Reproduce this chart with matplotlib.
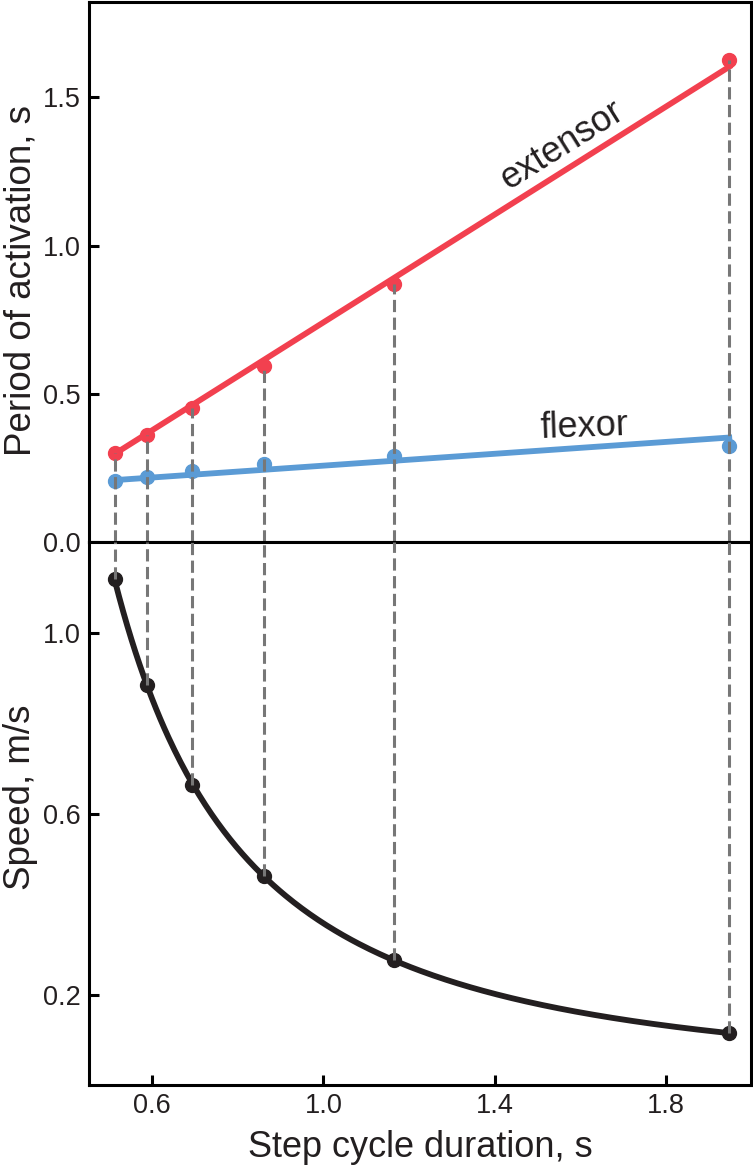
import numpy as np
import matplotlib
matplotlib.use('Agg')
import matplotlib.pyplot as plt

plt.rcParams['font.family'] = ['Liberation Sans', 'DejaVu Sans']

# ====
# Data
# ====
cycle = [0.513, 0.587, 0.694, 0.860, 1.164, 1.948]   # step cycle duration, s
extensor = [0.301, 0.361, 0.451, 0.595, 0.870, 1.625]  # period of activation, s
flexor = [0.206, 0.221, 0.239, 0.263, 0.289, 0.325]
speed = [1.119, 0.885, 0.664, 0.461, 0.276, 0.115]  # m/s

# regression lines (slope, intercept)
ext_fit = (0.909, -0.168)
flex_fit = (0.100, 0.158)

red = '#f2404f'
blue = '#5b9bd5'
black = '#231f20'
gray = '#777777'

# ======
# Figure
# ======
fig = plt.figure(figsize=(7.53, 11.71), dpi=100)
ax1 = fig.add_axes([0.118, 0.537, 0.880, 0.461])
ax2 = fig.add_axes([0.118, 0.0734, 0.880, 0.4636], sharex=ax1)

x = np.array(cycle)
xl = np.array([x.min(), x.max()])
dash = (0, (4.0, 1.8))

# top: activation periods
ax1.plot(xl, ext_fit[0] * xl + ext_fit[1], color=red, lw=4.2, zorder=3)
ax1.plot(x, extensor, 'o', color=red, ms=10, zorder=2)
ax1.plot(xl, flex_fit[0] * xl + flex_fit[1], color=blue, lw=4.2, zorder=3)
ax1.plot(x, flexor, 'o', color=blue, ms=10, zorder=2)
ax1.vlines(x, 0, extensor, colors=gray, lw=2.2, linestyles=dash, zorder=4)

xe = 1.58
ax1.text(xe, ext_fit[0] * xe + ext_fit[1] + 0.02, 'extensor', fontsize=26, color=black,
         rotation=32, rotation_mode='anchor', ha='center', va='bottom')
xf = 1.61
ax1.text(xf, flex_fit[0] * xf + flex_fit[1] + 0.01, 'flexor', fontsize=26, color=black,
         rotation=2, rotation_mode='anchor', ha='center', va='bottom')

ax1.set_ylim(0, 1.82)
ax1.set_yticks([0.0, 0.5, 1.0, 1.5])
ax1.set_yticklabels(['0.0', '0.5', '1.0', '1.5'])
ax1.set_ylabel('Period of activation, s', fontsize=26.5, color=black)
ax1.tick_params(axis='x', bottom=False, labelbottom=False)

# bottom: speed, power-law fit through the points
b, a = np.polyfit(np.log(x), np.log(speed), 1)
xs = np.linspace(x.min(), x.max(), 300)
ax2.plot(xs, np.exp(a) * xs ** b, color=black, lw=4.2, zorder=3)
ax2.plot(x, speed, 'o', color=black, ms=10, zorder=2)
ax2.vlines(x, speed, 1.2, colors=gray, lw=2.2, linestyles=dash, zorder=4)

ax2.set_ylim(0, 1.2)
ax2.set_yticks([0.2, 0.6, 1.0])
ax2.set_yticklabels(['0.2', '0.6', '1.0'])
ax2.set_xlim(0.452, 2.0)
ax2.set_xticks([0.6, 1.0, 1.4, 1.8])
ax2.set_xticklabels(['0.6', '1.0', '1.4', '1.8'])
ax2.set_ylabel('Speed, m/s', fontsize=26.5, color=black)
ax2.set_xlabel('Step cycle duration, s', fontsize=26, color=black, labelpad=8)

for ax in (ax1, ax2):
    for s in ax.spines.values():
        s.set_linewidth(2.2)
        s.set_color('black')
    ax.tick_params(direction='in', length=7, width=2.2, labelsize=19.5,
                   labelcolor=black, pad=6)

ax1.yaxis.set_label_coords(-0.076, 0.485)
ax2.yaxis.set_label_coords(-0.076, 0.53)

fig.savefig('out.png', dpi=100)
